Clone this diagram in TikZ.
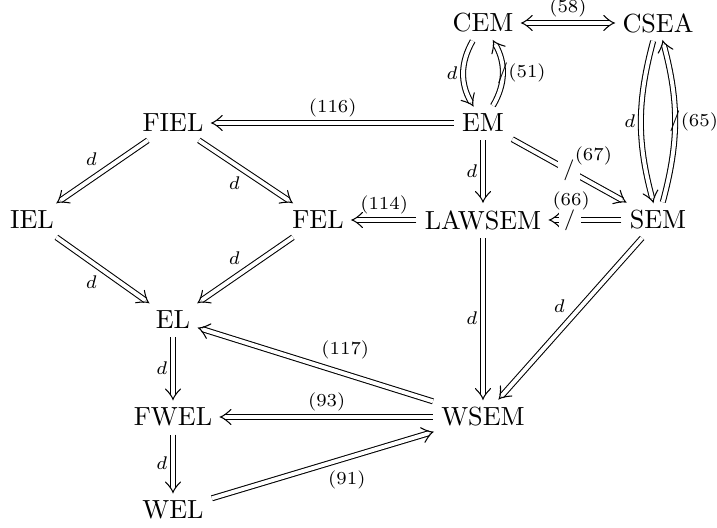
\documentclass[tikz,border=0pt]{standalone}
\usetikzlibrary{decorations.markings}
\begin{document}
\begin{tikzpicture}[x=0.3817pt,y=-0.3817pt,
  obj/.style={inner sep=3pt},
  chevstyle/.style={line width=0.4pt, shorten >=0pt, shorten <=0pt, line cap=round},
  imp/.style={double, double distance=1.5pt, line width=0.4pt, shorten >=1.5pt,
    postaction={decorate, decoration={markings, mark=at position 1 with {\draw[chevstyle] (-4pt,2.9pt) .. controls (-2.6pt,1.5pt) and (-1.2pt,0.4pt) .. (0,0) .. controls (-1.2pt,-0.4pt) and (-2.6pt,-1.5pt) .. (-4pt,-2.9pt);}}}},
  impboth/.style={imp, shorten <=1.5pt,
    postaction={decorate, decoration={markings, mark=at position 0 with {\draw[chevstyle] (4pt,2.9pt) .. controls (2.6pt,1.5pt) and (1.2pt,0.4pt) .. (0,0) .. controls (1.2pt,-0.4pt) and (2.6pt,-1.5pt) .. (4pt,-2.9pt);}}}},
  lab/.style={font=\scriptsize, inner sep=2pt},
  slash/.style={font=\footnotesize, inner sep=0pt},
  slashw/.style={font=\footnotesize, inner xsep=2pt, inner ysep=0pt, fill=white}]
\useasboundingbox (0,0) rectangle (717,528);
\node[obj] (CEM) at (483,23) {CEM};
\node[obj] (CSEA) at (658,23) {CSEA};
\node[obj] (FIEL) at (173,123) {FIEL};
\node[obj] (EM) at (483,123) {EM};
\node[obj] (IEL) at (32,220) {IEL};
\node[obj] (FEL) at (318,220) {FEL};
\node[obj] (LAWSEM) at (483,220) {LAWSEM};
\node[obj] (SEM) at (658,220) {SEM};
\node[obj] (EL) at (173,320) {EL};
\node[obj] (FWEL) at (173,417) {FWEL};
\node[obj] (WSEM) at (483,417) {WSEM};
\node[obj] (WEL) at (173,510) {WEL};

\draw[impboth] (CEM) -- node[lab,auto]{(58)} (CSEA);
\draw[imp] (CEM) to[bend right=30] node[lab,auto,swap]{$d$} (EM);
\draw[imp] (EM) to[bend right=30] node[slash]{$/$} node[lab,auto,swap]{(51)} (CEM);
\draw[imp] (CSEA) to[bend right=15] node[lab,auto,swap]{$d$} (SEM);
\draw[imp] (SEM) to[bend right=15] node[slash]{$/$} node[lab,auto,swap]{(65)} (CSEA);
\draw[imp] (EM) -- node[lab,auto,swap]{(116)} (FIEL);
\draw[imp] (EM) -- node[lab,auto,swap]{$d$} (LAWSEM);
\draw[imp] (EM) -- node[slashw]{$/$} node[lab,auto]{(67)} (SEM);
\draw[imp] (SEM) -- node[slashw,pos=0.72]{$/$} node[lab,auto,swap,pos=0.7,yshift=1.5pt]{(66)} (LAWSEM);
\draw[imp] (LAWSEM) -- node[lab,auto,swap]{(114)} (FEL);
\draw[imp] (FIEL) -- node[lab,auto,swap]{$d$} (IEL);
\draw[imp] (FIEL) -- node[lab,auto,swap]{$d$} (FEL);
\draw[imp] (IEL) -- node[lab,auto,swap]{$d$} (EL);
\draw[imp] (FEL) -- node[lab,auto,swap]{$d$} (EL);
\draw[imp] (EL) -- node[lab,auto,swap]{$d$} (FWEL);
\draw[imp] (FWEL) -- node[lab,auto,swap]{$d$} (WEL);
\draw[imp] (LAWSEM) -- node[lab,auto,swap]{$d$} (WSEM);
\draw[imp] (SEM) -- node[lab,auto,swap]{$d$} (WSEM);
\draw[imp] (WSEM) -- node[lab,auto,swap]{(117)} (EL);
\draw[imp] (WSEM) -- node[lab,auto,swap]{(93)} (FWEL);
\draw[imp] (WEL) -- node[lab,auto,swap]{(91)} (WSEM);
\end{tikzpicture}
\end{document}
